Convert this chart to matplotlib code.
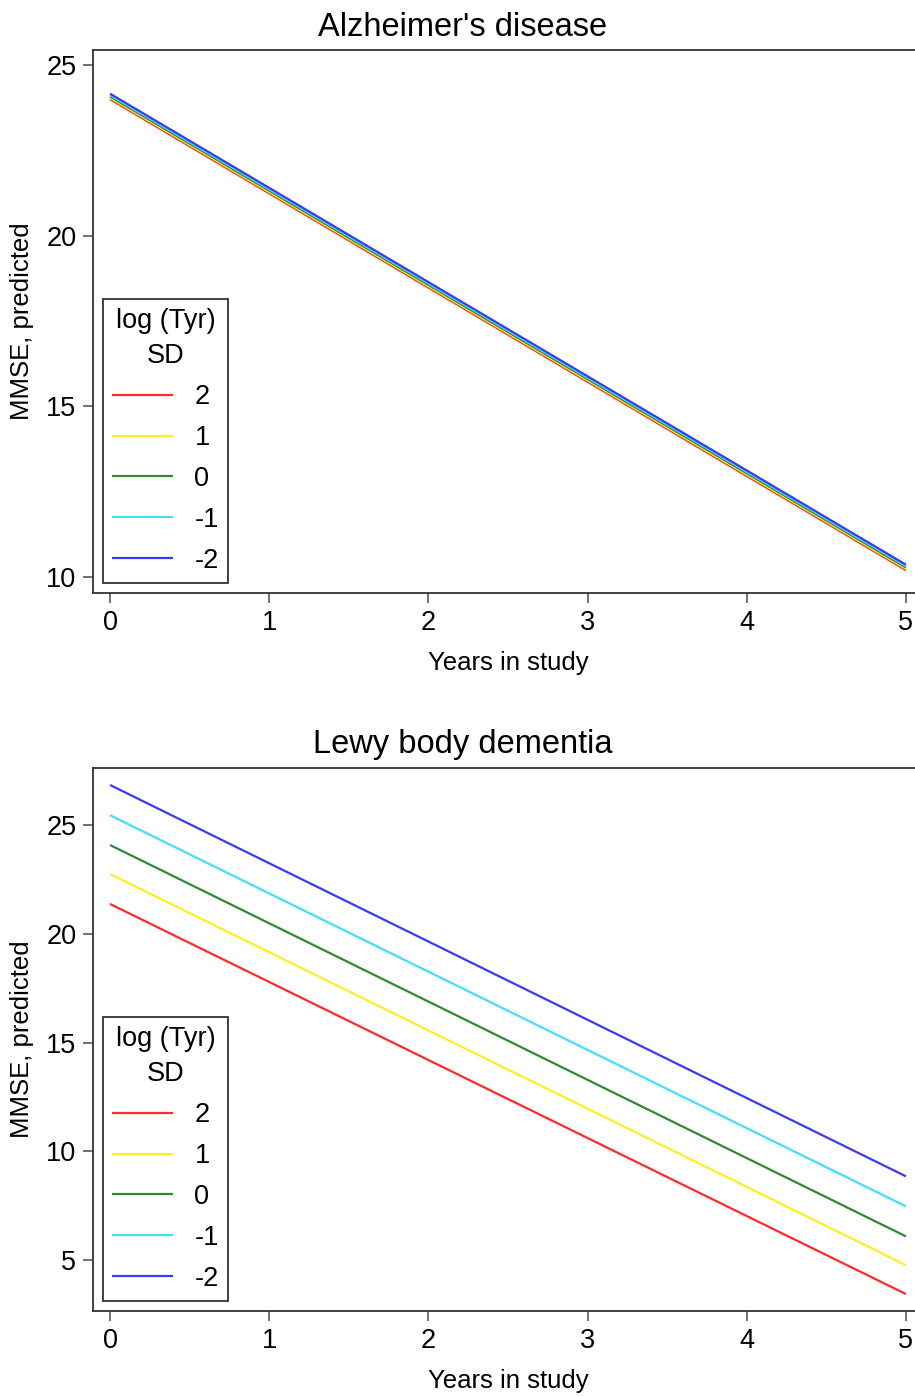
import matplotlib
matplotlib.use("Agg")
import matplotlib.pyplot as plt

plt.rcParams["font.family"] = ["Liberation Sans", "DejaVu Sans"]

years = [0, 5]
sd_labels = ["2", "1", "0", "-1", "-2"]
colors = ["#ff2a2a", "#ffee22", "#2e8b2e", "#44ddff", "#3a3aff"]

# predicted MMSE at year 0 and year 5, per log(Tyr) SD level
ad_start = [24.00, 24.04, 24.08, 24.12, 24.16]
ad_end = [10.20, 10.24, 10.28, 10.32, 10.36]
lbd_start = [21.37, 22.75, 24.08, 25.45, 26.84]
lbd_end = [3.44, 4.77, 6.09, 7.47, 8.85]

W, H = 915, 1396
fig = plt.figure(figsize=(W / 100, H / 100), dpi=100)


def panel(top_px, bottom_px, starts, ends, ylim, yticks, title, title_y):
    ax = fig.add_axes([93 / W, 1 - bottom_px / H, (W - 93) / W, (bottom_px - top_px) / H])
    for s, e, c, lab in zip(starts, ends, colors, sd_labels):
        ax.plot(years, [s, e], color=c, lw=1.6, label=lab, solid_capstyle="butt")
    ax.set_xlim(-0.107, 5.057)
    ax.set_ylim(*ylim)
    ax.set_xticks([0, 1, 2, 3, 4, 5])
    ax.set_yticks(yticks)
    ax.spines["right"].set_visible(False)
    for sp in ["left", "top", "bottom"]:
        ax.spines[sp].set_linewidth(1.3)
        ax.spines[sp].set_color("#333333")
    ax.tick_params(axis="both", direction="out", length=7, width=1.3, color="#666666",
                   labelsize=19.5, pad=5)
    ax.set_xlabel("Years in study", fontsize=18.5)
    ax.xaxis.set_label_coords((508 - 93) / (W - 93), -0.129)
    ax.xaxis.label.set_va("center")
    ax.set_ylabel("MMSE, predicted", fontsize=18.5)
    ax.yaxis.set_label_coords(-0.086, 0.5)
    ax.yaxis.label.set_va("center")
    leg = ax.legend(title="log (Tyr)\nSD", loc="lower left", bbox_to_anchor=(0.012, 0.018),
                    borderaxespad=0, fontsize=19.5, title_fontsize=19.5, handlelength=2.25,
                    handletextpad=0.78, borderpad=0.35, labelspacing=0.55, fancybox=False,
                    framealpha=1, alignment="center")
    leg.get_title().set_multialignment("center")
    leg.get_title().set_linespacing(1.45)
    leg.get_frame().set_edgecolor("#333333")
    leg.get_frame().set_linewidth(1.3)
    fig.text(463 / W, 1 - title_y / H, title, ha="center", va="center", fontsize=23.5)
    return ax


ax1 = panel(50, 593, ad_start, ad_end, (9.53, 25.44), [10, 15, 20, 25],
            "Alzheimer's disease", 27)
ax2 = panel(768, 1311, lbd_start, lbd_end, (2.66, 27.62), [5, 10, 15, 20, 25],
            "Lewy body dementia", 745)

fig.savefig("out.png", dpi=100)
